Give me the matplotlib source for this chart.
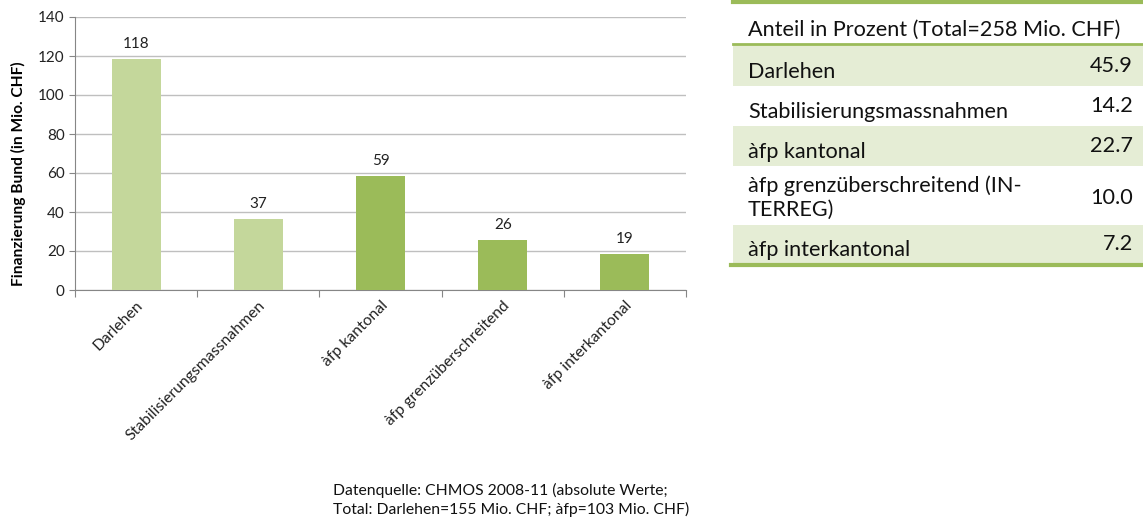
import matplotlib
matplotlib.use("Agg")
import matplotlib.pyplot as plt
from matplotlib.patches import Rectangle

plt.rcParams['font.family'] = ['Lato', 'DejaVu Sans']

categories = ["Darlehen", "Stabilisierungsmassnahmen", "àfp kantonal",
              "àfp grenzüberschreitend", "àfp interkantonal"]
values = [118.4, 36.6, 58.6, 25.8, 18.6]
bar_colors = ["#C4D79B", "#C4D79B", "#9BBB59", "#9BBB59", "#9BBB59"]
yticks = [0, 20, 40, 60, 80, 100, 120, 140]

table_header = "Anteil in Prozent (Total=258 Mio. CHF)"
table_labels = ["Darlehen", "Stabilisierungsmassnahmen", "àfp kantonal",
                "àfp grenzüberschreitend (IN-\nTERREG)", "àfp interkantonal"]
table_pct = ["45.9", "14.2", "22.7", "10.0", "7.2"]

footnote = ("Datenquelle: CHMOS 2008-11 (absolute Werte;\n"
            "Total: Darlehen=155 Mio. CHF; àfp=103 Mio. CHF)")

W, H = 1143, 523
fig = plt.figure(figsize=(W / 100, H / 100), dpi=100)

ax = fig.add_axes([75 / W, 1 - 290 / H, (686 - 75) / W, (290 - 17) / H])
x = list(range(len(categories)))
ax.bar(x, values, width=0.4, color=bar_colors, zorder=3)
for xi, v in zip(x, values):
    ax.text(xi, v + 4, f"{v:.0f}", ha="center", va="bottom", fontsize=11, color="#222222")
ax.set_xlim(-0.5, len(categories) - 0.5)
ax.set_ylim(0, 140)
ax.set_yticks(yticks)
ax.tick_params(axis="y", labelsize=11, length=4, color="#868686", colors="#222222")
ax.yaxis.grid(True, color="#BFBFBF", linewidth=1, zorder=0)
ax.set_xticks([i - 0.5 for i in range(len(categories) + 1)])
ax.set_xticklabels([])
ax.tick_params(axis="x", length=5, color="#868686")
ax.set_xticks(x, minor=True)
ax.set_xticklabels(categories, minor=True, rotation=45, ha="right",
                   rotation_mode="anchor", fontsize=11.3, color="#222222")
ax.tick_params(axis="x", which="minor", length=0, pad=6)
for s in ["top", "right"]:
    ax.spines[s].set_visible(False)
ax.spines["left"].set_color("#868686")
ax.spines["bottom"].set_color("#868686")
ax.set_ylabel("Finanzierung Bund (in Mio. CHF)", fontsize=11.2, fontweight="bold",
              va="center")
ax.yaxis.set_label_coords(-0.093, 0.425)

# Table
tax = fig.add_axes([0, 0, 1, 1])
tax.set_xlim(0, W)
tax.set_ylim(H, 0)
tax.axis("off")
x0, x1 = 733, 1143
row_bounds = [(45, 86), (86, 126), (126, 166), (166, 225), (225, 264)]
shade = "#E5EDD5"
line_c = "#9BBB59"
fs = 15.6
tax.plot([x0, x1], [1.5, 1.5], color=line_c, lw=3)
tax.text(748, 30, table_header, fontsize=fs, va="center", ha="left", color="#111111")
tax.plot([x0, x1], [44, 44], color=line_c, lw=2)
for i, ((t, b), lab, pct) in enumerate(zip(row_bounds, table_labels, table_pct)):
    if i % 2 == 0:
        tax.add_patch(Rectangle((x0, t), x1 - x0, b - t, color=shade, lw=0))
    if "\n" in lab:
        tax.text(748, (t + b) / 2 + 2, lab, fontsize=fs, va="center", ha="left",
                 color="#111111", linespacing=1.2)
        tax.text(1133, (t + b) / 2 + 2, pct, fontsize=fs, va="center", ha="right",
                 color="#111111")
    else:
        tax.text(748, b - 14, lab, fontsize=fs, va="center", ha="left", color="#111111")
        tax.text(1133, b - 20, pct, fontsize=fs, va="center", ha="right", color="#111111")
tax.plot([731, x1], [265, 265], color=line_c, lw=3)

fig.text(333 / W, 1 - 500 / H, footnote, fontsize=11.3, ha="left", va="center",
         color="#111111", linespacing=1.4)

fig.savefig("out.png", dpi=100)
